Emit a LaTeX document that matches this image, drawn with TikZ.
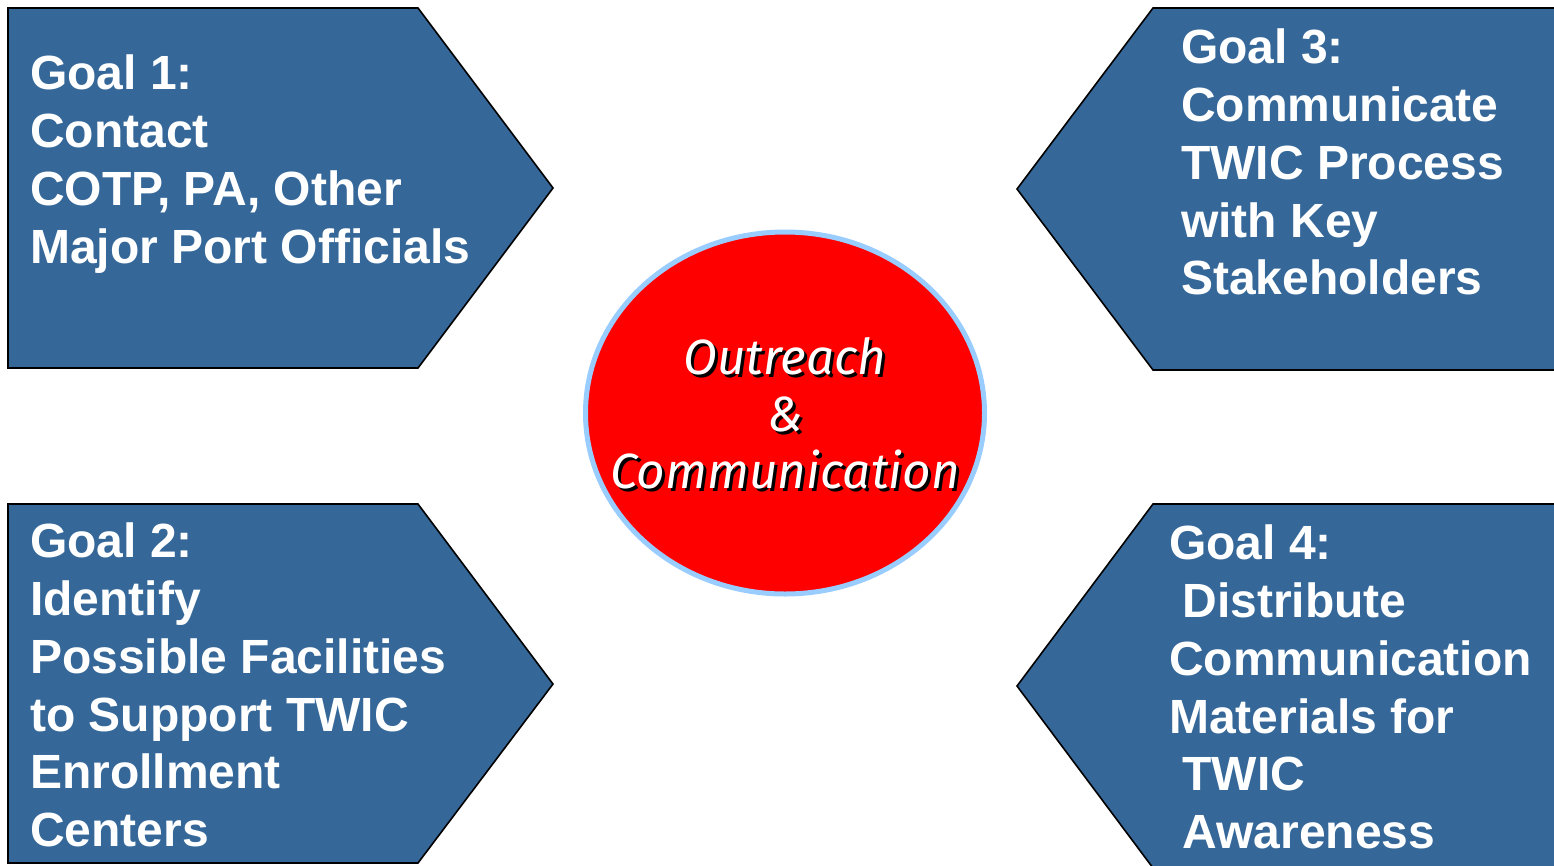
\documentclass[tikz,border=0pt]{standalone}
\usepackage{fontspec}
\setmainfont{Liberation Sans}
\newfontfamily\hubfont{Fira Sans}
\usetikzlibrary{shapes.geometric}
\pgfdeclarelayer{shapelayer}
\pgfdeclarelayer{textlayer}
\pgfsetlayers{shapelayer,textlayer,main}
\definecolor{goalblue}{RGB}{53,104,153}
\definecolor{hubred}{RGB}{255,0,0}
\definecolor{hubrim}{RGB}{153,204,255}
\tikzstyle{goal}=[fill=goalblue,draw=black,line width=1.6pt,line join=miter]
\tikzstyle{goaltext}=[anchor=north west,inner sep=0pt,align=left,text=white,font=\bfseries\fontsize{48}{57.7}\selectfont]
\tikzstyle{hub}=[ellipse,fill=hubred,draw=hubrim,line width=5pt,minimum width=399pt,minimum height=362pt,inner sep=0pt]
\tikzstyle{hubtext}=[anchor=north,inner sep=0pt,align=center,font=\hubfont\itshape\fontsize{49.5}{57}\selectfont]

\begin{document}
\begin{tikzpicture}[x=1pt,y=-1pt]
	\useasboundingbox (0,0) rectangle (1554,865);
	\clip (0,0) rectangle (1554,865);
	\begin{pgfonlayer}{shapelayer}
		\draw[style=goal] (8,8) -- (418,8) -- (553,188) -- (418,368) -- (8,368) -- cycle;
		\draw[style=goal] (8,504) -- (418,504) -- (553,684) -- (418,863) -- (8,863) -- cycle;
		\draw[style=goal] (1570,8) -- (1153,8) -- (1017,189) -- (1153,370) -- (1570,370) -- cycle;
		\draw[style=goal] (1570,504) -- (1153,504) -- (1017,686) -- (1153,868) -- (1570,868) -- cycle;
		\node [style=hub] (hub) at (785,413) {};
	\end{pgfonlayer}
	\begin{pgfonlayer}{textlayer}
		\node [style=goaltext] (g1) at (30,55) {Goal 1:\\Contact\\COTP, PA, Other\\Major Port Officials};
		\node [style=goaltext] (g2) at (30,523) {Goal 2:\\Identify\\Possible Facilities\\to Support TWIC\\Enrollment\\Centers};
		\node [style=goaltext] (g3) at (1181,29) {Goal 3:\\Communicate\\TWIC Process\\with Key\\Stakeholders};
		\node [style=goaltext] (g4) at (1169,525) {Goal 4:\\\ Distribute\\Communication\\Materials for\\\ TWIC\\\ Awareness};
		\node [style=hubtext,text=black] (hubshadow) at (788,340) {Outreach\\\&\\Communication};
		\node [style=hubtext,text=white] (hublabel) at (785,337) {Outreach\\\&\\Communication};
	\end{pgfonlayer}
\end{tikzpicture}
\end{document}
